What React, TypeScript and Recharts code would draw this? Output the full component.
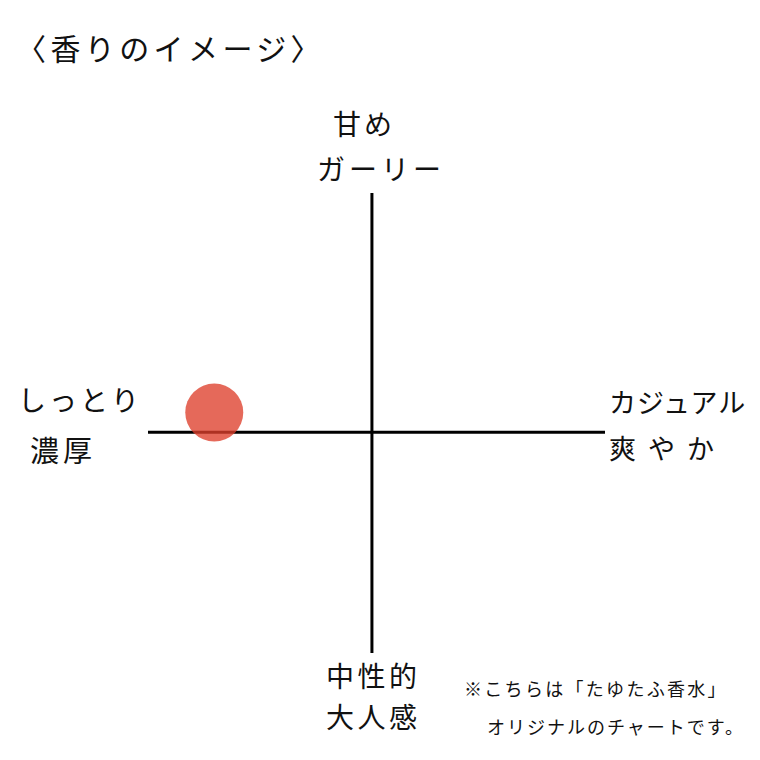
import React from 'react';
import {
  ScatterChart,
  Scatter,
  XAxis,
  YAxis,
  ReferenceLine,
} from 'recharts';

const title = '〈香りのイメージ〉';
const topLabels = ['甘め', 'ガーリー'];
const bottomLabels = ['中性的', '大人感'];
const leftLabels = ['しっとり', '濃厚'];
const rightLabels = ['カジュアル', '爽 や か'];
const noteLines = ['※こちらは「たゆたふ香水」', 'オリジナルのチャートです。'];

// position of this perfume on the map (x: 濃厚 ← → 爽やか, y: 大人感 ← → 甘め)
const points = [{ x: -3.45, y: 0.43 }];

const xDomain = [-4.9, 5.1];
const yDomain = [-4.8, 5.2];

const font = '"Noto Sans CJK JP", "Noto Sans", sans-serif';

const textStyle = (left: number, top: number, size: number, spacing: number): React.CSSProperties => ({
  position: 'absolute',
  left,
  top,
  fontSize: size,
  letterSpacing: spacing,
  lineHeight: 1,
  whiteSpace: 'nowrap',
  color: '#111',
  fontFamily: font,
});

const Dot = (props: any) => {
  const { cx, cy } = props;
  return <circle cx={cx} cy={cy} r={29} fill="#DE3F2C" fillOpacity={0.78} />;
};

export default function App() {
  return (
    <div style={{ position: 'absolute', left: 0, top: 0, width: 760, height: 760, background: '#fff', fontFamily: font }}>
      <ScatterChart
        width={760}
        height={760}
        margin={{ top: 193, right: 155, bottom: 107, left: 148 }}
      >
        <XAxis type="number" dataKey="x" domain={xDomain} hide />
        <YAxis type="number" dataKey="y" domain={yDomain} hide />
        <ReferenceLine y={0} stroke="#000" strokeWidth={3} />
        <ReferenceLine x={0} stroke="#000" strokeWidth={3} />
        <Scatter data={points} shape={Dot} isAnimationActive={false} />
      </ScatterChart>

      <div style={textStyle(16, 32, 30, 4.4)}>{title}</div>

      <div style={textStyle(333, 109, 28, 3)}>{topLabels[0]}</div>
      <div style={textStyle(317, 154, 28, 4)}>{topLabels[1]}</div>

      <div style={textStyle(18, 385, 28, 3)}>{leftLabels[0]}</div>
      <div style={textStyle(30, 435, 29, 4)}>{leftLabels[1]}</div>

      <div style={textStyle(609, 388, 27, 1)}>{rightLabels[0]}</div>
      <div style={textStyle(609, 434, 27, 3)}>{rightLabels[1]}</div>

      <div style={textStyle(326, 661, 28, 3.5)}>{bottomLabels[0]}</div>
      <div style={textStyle(326, 702, 28, 3.5)}>{bottomLabels[1]}</div>

      <div style={textStyle(464, 679, 18, 2.3)}>{noteLines[0]}</div>
      <div style={textStyle(487, 717, 18, 2)}>{noteLines[1]}</div>
    </div>
  );
}
